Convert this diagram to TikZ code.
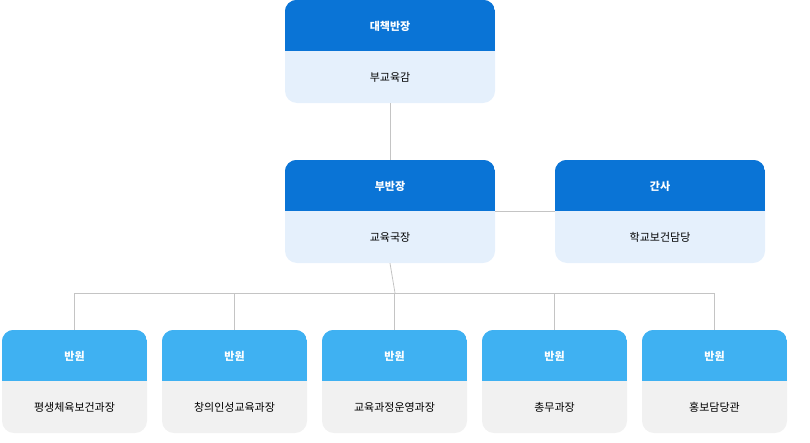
\documentclass[tikz,border=0pt]{standalone}
\usepackage{fontspec}
\setmainfont{Noto Sans CJK KR}
\usetikzlibrary{positioning}
\definecolor{headdark}{HTML}{0A74D6}
\definecolor{headlight}{HTML}{3FB1F2}
\definecolor{bodyblue}{HTML}{E5F0FC}
\definecolor{bodygray}{HTML}{F1F1F1}
\definecolor{linegray}{HTML}{C4C4C4}
\tikzset{
box/.style={rectangle, rounded corners=12pt, minimum height=103pt, inner sep=0pt},
conn/.style={draw=linegray, line width=0.8pt},
headtext/.style={text=white, font=\fontsize{11}{13}\selectfont\bfseries},
bodytext/.style={text=black, font=\fontsize{11}{13}\selectfont}}
% name, x, y, width, head colour, body colour, head text, body text
\newcommand{\orgbox}[8]{%
  \node[box, minimum width=#4pt, fill=#6] (#1) at (#2,#3) {};
  \begin{scope}
    \clip[rounded corners=12pt] (#1.north west) rectangle (#1.south east);
    \fill[#5] (#1.north west) rectangle ([yshift=1pt]#1.east);
  \end{scope}
  \node[headtext] at ([yshift=25.5pt]#1.center) {#7};
  \node[bodytext] at ([yshift=-25.5pt]#1.center) {#8};}
\begin{document}
\begin{tikzpicture}[x=1pt,y=-1pt]
\useasboundingbox (0,0) rectangle (810,442);
% connectors first
\coordinate (fork) at (395,293);
\orgbox{chief}{390}{51.5}{210}{headdark}{bodyblue}{대책반장}{부교육감}
\orgbox{vice}{390}{211.5}{210}{headdark}{bodyblue}{부반장}{교육국장}
\orgbox{sec}{660}{211.5}{210}{headdark}{bodyblue}{간사}{학교보건담당}
\begin{scope}[on background layer/.style={}]
\end{scope}
\draw[conn] (chief.south) -- (vice.north);
\draw[conn] (vice.east) -- (sec.west);
\draw[conn] (vice.south) -- (fork);
\foreach \n/\x/\t in {m1/74.5/평생체육보건과장, m2/234.5/창의인성교육과장, m3/394.5/교육과정운영과장, m4/554.5/총무과장, m5/714.5/홍보담당관}{
  \orgbox{\n}{\x}{381.5}{145}{headlight}{bodygray}{반원}{\t}
  \draw[conn] (\n.north) |- (fork);
}
\end{tikzpicture}
\end{document}
